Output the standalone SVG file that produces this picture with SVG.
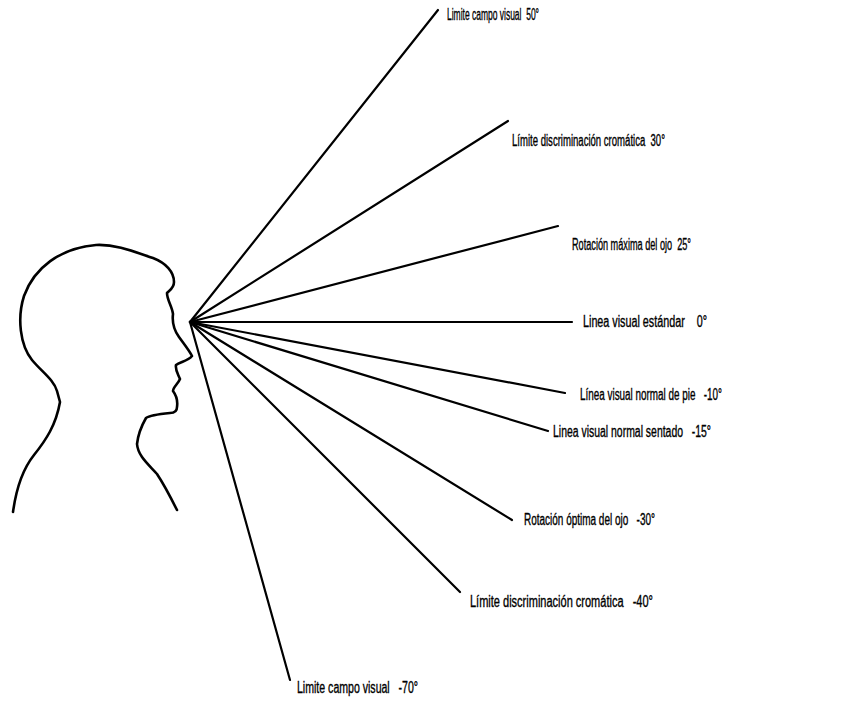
<svg xmlns="http://www.w3.org/2000/svg" width="860" height="703" viewBox="0 0 860 703">
  <style>
    .ray { stroke: #000; stroke-width: 2.2; stroke-linecap: round; fill: none; }
    .outline { stroke: #000; stroke-width: 2.6; stroke-linejoin: round; stroke-linecap: round; fill: none; }
    .lbl { font-family: "Liberation Sans", Arial, sans-serif; font-size: 16px; fill: #000; stroke: #000; stroke-width: 0.35px; white-space: pre; }
  </style>
  <rect width="860" height="703" fill="#fff"/>

  <!-- head profile -->
  <g id="head">
    <path class="outline" d="M13,512 C16,490 22,470 34,455 C46,440 56,425 60,402 L57,391 C54,380 42,372 32,360 C20,345 17,318 24,296 C34,268 60,248 96,245 C116,244 135,252 153,258 C166,263 174,272 174,282 C174,288 170,290 167,293 C167,300 172,306 173,314 C172,322 174,330 179,337 C184,344 189,350 192,356 C188,361 180,362 176,365 C175,370 178,374 180,379 C178,384 173,387 173,391 C176,395 178,400 177,407 C177,411 174,413 170,413 C160,414 150,415 146,418 C142,425 138,435 137,444 C138,456 148,464 157,474 C165,486 171,498 177,510"/>
  </g>

  <!-- sight lines from the eye -->
  <g id="rays">
    <line class="ray" x1="190" y1="322" x2="438" y2="10"/>
    <line class="ray" x1="190" y1="322" x2="508" y2="121"/>
    <line class="ray" x1="190" y1="322" x2="558" y2="226"/>
    <line class="ray" x1="190" y1="322" x2="572" y2="322"/>
    <line class="ray" x1="190" y1="322" x2="565" y2="393"/>
    <line class="ray" x1="190" y1="322" x2="548" y2="431"/>
    <line class="ray" x1="190" y1="322" x2="512" y2="520"/>
    <line class="ray" x1="190" y1="322" x2="460" y2="592"/>
    <line class="ray" x1="190" y1="322" x2="290" y2="680"/>
  </g>

  <g id="label-50">
    <text class="lbl" x="447" y="20" textLength="92" lengthAdjust="spacingAndGlyphs">Limite campo visual  50°</text>
  </g>
  <g id="label-30">
    <text class="lbl" x="512" y="146" textLength="153" lengthAdjust="spacingAndGlyphs">Límite discriminación cromática  30°</text>
  </g>
  <g id="label-25">
    <text class="lbl" x="572" y="250" textLength="119" lengthAdjust="spacingAndGlyphs">Rotación máxima del ojo  25°</text>
  </g>
  <g id="label-0">
    <text class="lbl" x="583" y="327" textLength="124" lengthAdjust="spacingAndGlyphs">Linea visual estándar    0°</text>
  </g>
  <g id="label-m10">
    <text class="lbl" x="580" y="400" textLength="142" lengthAdjust="spacingAndGlyphs">Línea visual normal de pie   -10°</text>
  </g>
  <g id="label-m15">
    <text class="lbl" x="553" y="437" textLength="158" lengthAdjust="spacingAndGlyphs">Linea visual normal sentado   -15°</text>
  </g>
  <g id="label-m30">
    <text class="lbl" x="524" y="525" textLength="131" lengthAdjust="spacingAndGlyphs">Rotación óptima del ojo   -30°</text>
  </g>
  <g id="label-m40">
    <text class="lbl" x="470" y="607" textLength="183" lengthAdjust="spacingAndGlyphs">Límite discriminación cromática   -40°</text>
  </g>
  <g id="label-m70">
    <text class="lbl" x="297" y="693" textLength="121" lengthAdjust="spacingAndGlyphs">Limite campo visual   -70°</text>
  </g>
</svg>
